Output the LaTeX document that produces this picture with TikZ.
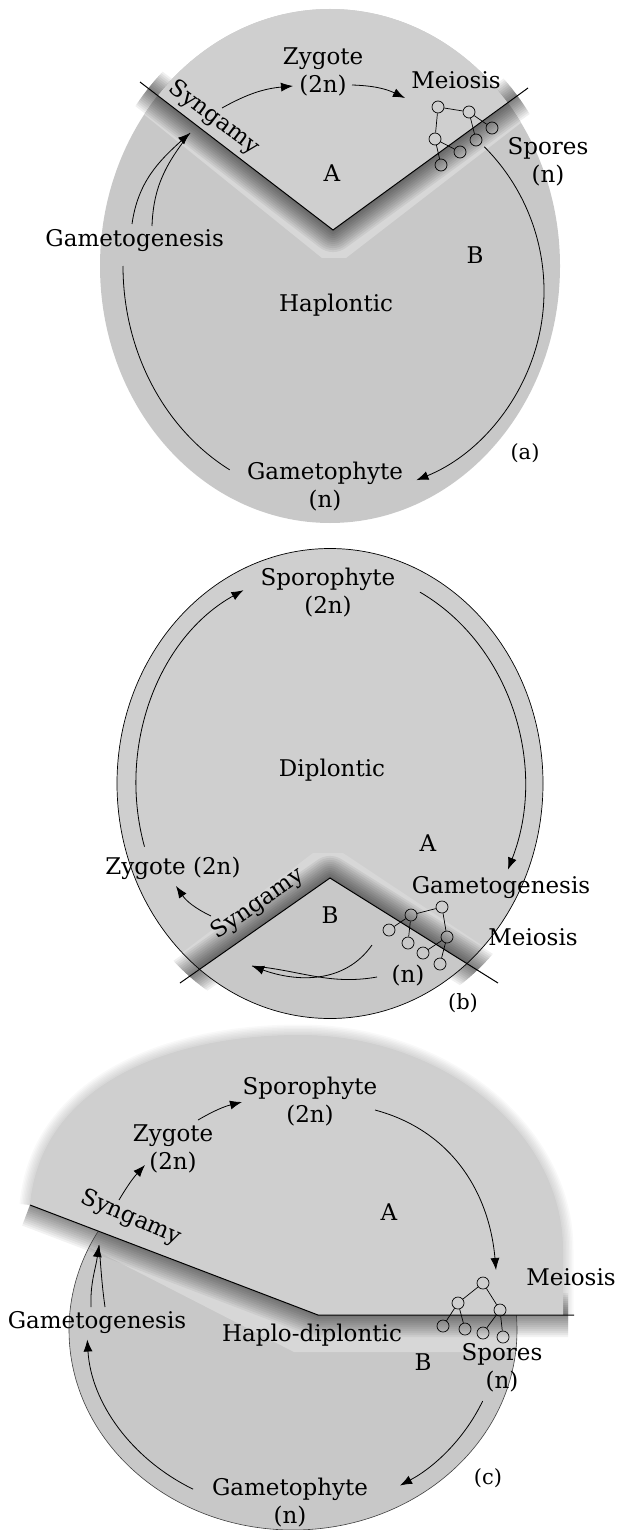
\documentclass[tikz,border=0pt]{standalone}
\usepackage{fontspec}
\setmainfont{DejaVu Serif}
\usetikzlibrary{arrows.meta, calc}

\definecolor{afill}{gray}{0.81}
\definecolor{bfill}{gray}{0.785}
\definecolor{shelf}{gray}{0.845}

\begin{document}
\begin{tikzpicture}[
  x=1pt, y=-1pt,
  lbl/.style={font=\fontsize{23}{28}\selectfont, inner sep=0pt, align=center},
  paneltag/.style={font=\fontsize{21}{24}\selectfont, inner sep=0pt},
  arr/.style={-{Latex[length=12pt, width=9pt]}, line width=0.8pt},
  cyc/.style={line width=0.8pt},
  vline/.style={line width=1pt},
  spore/.style={circle, draw, line width=0.7pt, minimum size=12pt, inner sep=0pt},
  twig/.style={line width=0.7pt}
]
  \useasboundingbox (0,0) rectangle (623,1530);

  % (a) haplontic
  \coordinate (ca) at (330,266);
  \coordinate (a-l) at (140,82);
  \coordinate (a-v) at (333,230);
  \coordinate (a-r) at (528,88);
  \fill[bfill] (ca) ellipse [x radius=230pt, y radius=257pt];
  \begin{scope}
    \clip (ca) ellipse [x radius=230pt, y radius=257pt];
    \fill[shelf] (110,60) -- (110,87) -- (322,258) -- (346,258) -- (570,85) -- (570,60) -- cycle;
  \end{scope}
  \begin{scope}
    \clip (ca) ellipse [x radius=242pt, y radius=269pt];
    \foreach \w in {4,8,...,44}
      \draw[line width=\w pt, opacity=0.06, line join=round] (a-l) -- (a-v) -- (a-r);
  \end{scope}
  \begin{scope}
    \clip (60,21) -- (a-v) -- (600,36) -- (600,0) -- (60,0) -- cycle;
    \fill[afill] (ca) ellipse [x radius=230pt, y radius=257pt];
  \end{scope}
  \draw[vline] (a-l) -- (a-v) -- (a-r);

  \node[lbl] (a-zyg) at (323,72) {Zygote\\(2n)};
  \node[lbl] (a-mei) at (456,80) {Meiosis};
  \node[lbl, rotate=-37] (a-syn) at (214,118) {Syngamy};
  \node[lbl] (a-A) at (332,173) {A};
  \node[lbl] (a-spo) at (548,162) {Spores\\(n)};
  \node[lbl, anchor=east] (a-gen) at (224,241) {Gametogenesis};
  \node[lbl] (a-B) at (475,255) {B};
  \node[lbl] (a-hap) at (336,305) {Haplontic};
  \node[paneltag] (a-tag) at (525,453) {(a)};
  \node[lbl] (a-gph) at (325,487) {Gametophyte\\(n)};

  \foreach \n/\x/\y in {1/438/107, 2/469/112, 3/492/128, 4/435/139, 5/476/140, 6/460/152, 7/441/165}
    \node[spore] (a-sp\n) at (\x,\y) {};
  \foreach \u/\v in {1/2, 1/4, 2/3, 2/5, 4/6, 4/7}
    \draw[twig] (a-sp\u) -- (a-sp\v);

  \coordinate (a-s1) at (222,108);
  \coordinate (a-z1) at (293,86);
  \coordinate (a-z2) at (352,85);
  \coordinate (a-m1) at (405,98);
  \coordinate (a-g1) at (132,224);
  \coordinate (a-g2) at (152,226);
  \coordinate (a-s2) at (190,133);
  \coordinate (a-c2) at (340,291);
  \coordinate (a-p1) at ($(a-c2)+(45:204pt)$);
  \coordinate (a-p2) at ($(ca)+(180:207pt and 233pt)$);
  \draw[arr] (a-s1) to[bend left=12] (a-z1);
  \draw[arr] (a-z2) to[bend left=12] (a-m1);
  \draw[cyc] (a-g2) to[out=88, in=232] (a-s2);
  \draw[arr] (a-g1) to[out=82, in=222] (a-s2);
  \draw[arr] (a-p1) arc[start angle=45, end angle=-68, radius=204pt];
  \draw[cyc] (a-p2) arc[start angle=180, end angle=241, x radius=207pt, y radius=233pt];

  % (b) diplontic
  \coordinate (cb) at (330,783.5);
  \coordinate (b-l) at (180,983);
  \coordinate (b-v) at (330,878);
  \coordinate (b-r) at (498,983);
  \fill[afill] (cb) ellipse [x radius=213pt, y radius=235pt];
  \begin{scope}
    \clip (cb) ellipse [x radius=213pt, y radius=235pt];
    \fill[shelf] (120,1030) -- (120,1000) -- (313,853) -- (343,853) -- (540,984) -- (540,1030) -- cycle;
  \end{scope}
  \begin{scope}
    \clip (cb) ellipse [x radius=225pt, y radius=247pt];
    \foreach \w in {4,8,...,44}
      \draw[line width=\w pt, opacity=0.06, line join=round] (b-l) -- (b-v) -- (b-r);
  \end{scope}
  \begin{scope}
    \clip (100,1039) -- (b-v) -- (560,1022) -- (560,1045) -- (100,1045) -- cycle;
    \fill[bfill] (cb) ellipse [x radius=213pt, y radius=235pt];
  \end{scope}
  \draw[line width=0.7pt] (cb) ellipse [x radius=213pt, y radius=235pt];
  \draw[vline] (b-l) -- (b-v) -- (b-r);

  \node[lbl] (b-spo) at (328,593) {Sporophyte\\(2n)};
  \node[lbl] (b-dip) at (332,770) {Diplontic};
  \node[lbl] (b-A) at (428,843) {A};
  \node[lbl] (b-zyg) at (173,868) {Zygote (2n)};
  \node[lbl, rotate=35] (b-syn) at (258,904) {Syngamy};
  \node[lbl] (b-B) at (330,915) {B};
  \node[lbl] (b-gen) at (501,888) {Gametogenesis};
  \node[lbl] (b-mei) at (533,937) {Meiosis};
  \node[lbl] (b-n) at (408,976) {(n)};
  \node[paneltag] (b-tag) at (463,1003) {(b)};

  \foreach \n/\x/\y in {1/411/915, 2/442/907, 3/389/930, 4/408/943, 5/447/937, 6/423/953, 7/440/964}
    \node[spore] (b-sp\n) at (\x,\y) {};
  \foreach \u/\v in {1/2, 1/3, 1/4, 2/5, 5/6, 5/7}
    \draw[twig] (b-sp\u) -- (b-sp\v);

  \coordinate (b-p1) at ($(cb)+(197:194pt and 216pt)$);
  \coordinate (b-p2) at ($(cb)+(62.4:194pt and 216pt)$);
  \coordinate (b-s1) at (211,916);
  \coordinate (b-z1) at (176,886);
  \coordinate (b-n1) at (372,945);
  \coordinate (b-n2) at (377,977);
  \coordinate (b-k) at (252,966);
  \draw[arr] (b-p1) arc[start angle=197, end angle=116.5, x radius=194pt, y radius=216pt];
  \draw[arr] (b-p2) arc[start angle=62.4, end angle=-23.5, x radius=194pt, y radius=216pt];
  \draw[arr] (b-s1) to[bend left=15] (b-z1);
  \draw[cyc] (b-n2) to[out=190, in=355] (b-k);
  \draw[arr] (b-n1) to[out=235, in=340] (b-k);

  % (c) haplo-diplontic
  \coordinate (cc) at (293,1330);
  \coordinate (c-l) at (30,1205);
  \coordinate (c-v) at (318,1315);
  \coordinate (c-r) at (574,1315);
  \fill[bfill] (cc) ellipse [x radius=224pt, y radius=200pt];
  \begin{scope}
    \clip (cc) ellipse [x radius=224pt, y radius=200pt];
    \fill[shelf] (50,1180) -- (60,1232) -- (294,1352) -- (540,1352) -- (540,1180) -- cycle;
  \end{scope}
  \begin{scope}
    \clip (0,1150) rectangle (568,1400);
    \foreach \w in {4,8,...,44}
      \draw[line width=\w pt, opacity=0.05, line join=round] (c-l) -- (c-v) -- (c-r);
  \end{scope}
  \draw[line width=0.6pt, black!75] (cc) ellipse [x radius=224pt, y radius=200pt];
  \foreach \w in {3,6,...,21}
    \draw[line width=\w pt, opacity=0.025, line join=round]
      (c-l) .. controls (40,1090) and (160,1035) .. (300,1035)
      .. controls (440,1035) and (563,1130) .. (563,1250) -- (563,1315);
  \fill[afill] (c-l) .. controls (40,1090) and (160,1035) .. (300,1035)
    .. controls (440,1035) and (563,1130) .. (563,1250) -- (563,1315) -- (c-v) -- cycle;
  \draw[vline] (c-l) -- (c-v) -- (c-r);

  \node[lbl] (c-zyg) at (173,1149) {Zygote\\(2n)};
  \node[lbl] (c-spo) at (310,1102) {Sporophyte\\(2n)};
  \node[lbl] (c-A) at (389,1212) {A};
  \node[lbl] (c-mei) at (571,1277) {Meiosis};
  \node[lbl, rotate=-23] (c-syn) at (131,1218) {Syngamy};
  \node[lbl] (c-gen) at (97,1323) {Gametogenesis};
  \node[lbl] (c-hap) at (312,1335) {Haplo-diplontic};
  \node[lbl] (c-B) at (423,1362) {B};
  \node[lbl] (c-spr) at (502,1368) {Spores\\(n)};
  \node[paneltag] (c-tag) at (488,1478) {(c)};
  \node[lbl] (c-gph) at (290,1503) {Gametophyte\\(n)};

  \foreach \n/\x/\y in {1/483/1283, 2/458/1303, 3/500/1310, 4/443/1326, 5/465/1329, 6/483/1333, 7/503/1337}
    \node[spore] (c-sp\n) at (\x,\y) {};
  \foreach \u/\v in {1/2, 1/3, 2/4, 2/5, 3/6, 3/7}
    \draw[twig] (c-sp\u) -- (c-sp\v);

  \coordinate (c-s1) at (119,1200);
  \coordinate (c-z1) at (145,1165);
  \coordinate (c-z2) at (198,1120);
  \coordinate (c-o1) at (242,1102);
  \coordinate (c-o2) at (375,1110);
  \coordinate (c-m1) at (496,1270);
  \coordinate (c-g1) at (91,1307);
  \coordinate (c-g2) at (105,1307);
  \coordinate (c-s2) at (99,1245);
  \coordinate (c-p1) at ($(cc)+(241:206pt and 182pt)$);
  \coordinate (c-p2) at ($(cc)+(-23:206pt and 182pt)$);
  \draw[arr] (c-s1) to[bend left=6] (c-z1);
  \draw[arr] (c-z2) to[bend left=8] (c-o1);
  \draw[arr] (c-o2) to[out=-15, in=95] (c-m1);
  \draw[cyc] (c-g2) to[out=98, in=275] (c-s2);
  \draw[arr] (c-g1) to[out=92, in=262] (c-s2);
  \draw[arr] (c-p1) arc[start angle=241, end angle=183, x radius=206pt, y radius=182pt];
  \draw[arr] (c-p2) arc[start angle=-23, end angle=-58.7, x radius=206pt, y radius=182pt];
\end{tikzpicture}
\end{document}
